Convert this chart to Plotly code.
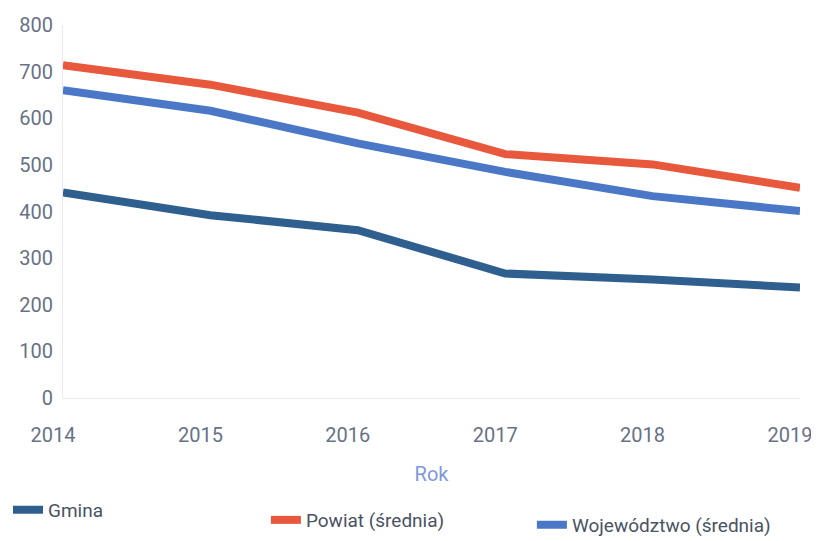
import plotly.graph_objects as go

years = [2014, 2015, 2016, 2017, 2018, 2019]
gmina = [441, 392, 360, 267, 254, 237]
powiat = [714, 672, 612, 523, 501, 451]
wojewodztwo = [660, 616, 546, 485, 433, 401]
y_ticks = [0, 100, 200, 300, 400, 500, 600, 700, 800]

series = [
    ("Gmina", gmina, "#2f5f8f", "legend", 0.0, 0.094),
    ("Powiat (średnia)", powiat, "#e8583c", "legend2", 0.318, 0.075),
    ("Województwo (średnia)", wojewodztwo, "#4a78c6", "legend3", 0.646, 0.066),
]

fig = go.Figure()
for name, vals, col, lg, _, _ in series:
    fig.add_trace(go.Scatter(x=years, y=vals, mode="lines", name=name, legend=lg,
                             showlegend=True, line=dict(color=col, width=8)))

legend_style = dict(orientation="h", xref="container", yref="container",
                    xanchor="left", yanchor="top", itemwidth=30,
                    bgcolor="rgba(0,0,0,0)",
                    font=dict(size=19, color="#4a5263"))
legends = {}
for name, vals, col, lg, lx, ly in series:
    legends[lg] = dict(legend_style, x=lx, y=ly)

fig.update_layout(
    width=811, height=533, showlegend=True,
    margin=dict(l=55, r=19, t=17, b=143, autoexpand=False),
    paper_bgcolor="white", plot_bgcolor="white",
    font=dict(family="Roboto", size=20, color="#687186"),
    xaxis=dict(range=[2014, 2019], tickvals=years, showgrid=False, zeroline=False,
               showline=True, linecolor="#e6eaf3", linewidth=1,
               ticklabeloverflow="allow", ticklabelshift=-10,
               tickfont=dict(size=20), ticklabelstandoff=19,
               title=dict(text="Rok", font=dict(size=20, color="#8098dc"), standoff=20)),
    yaxis=dict(range=[0, 800], tickvals=y_ticks, showgrid=False, zeroline=False,
               showline=True, linecolor="#e6eaf3", linewidth=1, ticklabelstandoff=5),
    **legends,
)
fig.write_html("out.html")
